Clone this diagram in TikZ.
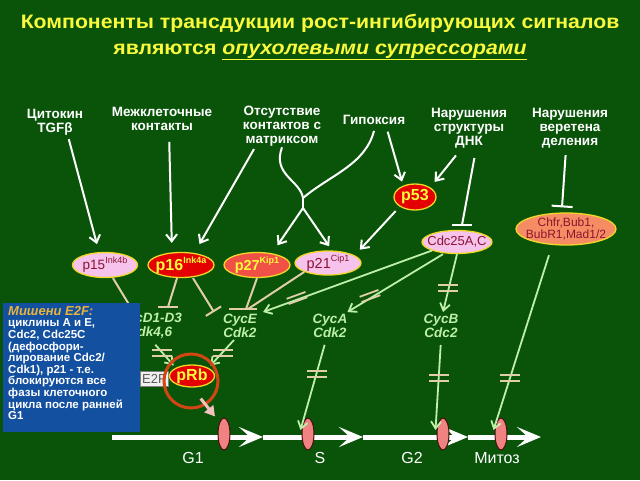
\documentclass[tikz,border=0pt]{standalone}
\usepackage{fontspec}
\setmainfont{Liberation Sans}
\newfontfamily\ttlfont[FakeStretch=1.09]{Liberation Sans}
\usetikzlibrary{shapes.geometric,arrows.meta}

\definecolor{bggreen}{RGB}{10,84,10}
\definecolor{ttlyellow}{RGB}{250,250,60}
\definecolor{lgreen}{RGB}{190,240,170}
\definecolor{tanbar}{RGB}{225,205,170}
\definecolor{ylborder}{RGB}{240,215,40}
\definecolor{redn}{RGB}{228,0,0}
\definecolor{tomn}{RGB}{240,80,70}
\definecolor{pinkn}{RGB}{245,195,235}
\definecolor{salmn}{RGB}{245,140,100}
\definecolor{dkred}{RGB}{140,20,50}
\definecolor{boxblue}{RGB}{20,80,160}
\definecolor{goldt}{RGB}{232,180,60}
\definecolor{ringcol}{RGB}{210,70,20}
\definecolor{ckpink}{RGB}{240,130,130}
\definecolor{ckdark}{RGB}{70,15,15}
\definecolor{rbpink}{RGB}{245,195,190}

\newcommand{\upidx}[1]{\raisebox{0.45em}{\fontsize{9}{9}\selectfont #1}}
% double break mark across a connector
\newcommand{\brk}[3][0]{\draw[brkline,rotate around={#1:(#2,#3)}] (#2-10,#3-2.8) -- ++(20,0) (#2-10,#3+2.8) -- ++(20,0);}

\tikzset{
  lbl/.style={text=white,font=\fontsize{13.5}{14}\selectfont\bfseries,align=center,inner sep=1pt},
  cplx/.style={text=lgreen,font=\fontsize{13.5}{14}\selectfont\bfseries\itshape,align=center,inner sep=2pt},
  prot/.style={ellipse,draw=ylborder,line width=1.3pt,inner xsep=-9pt,inner ysep=-2pt},
  warr/.style={white,line width=2pt,-{Straight Barb[length=7pt,width=11pt]}},
  wline/.style={white,line width=2pt},
  garr/.style={lgreen,line width=1.8pt,-{Straight Barb[length=7pt,width=10pt]}},
  inh/.style={tanbar,line width=2pt},
  brkline/.style={tanbar,line width=1.8pt},
  ckpt/.style={ellipse,fill=ckpink,draw=ckdark,line width=1pt,minimum width=12pt,minimum height=32pt,inner sep=0pt},
  cyc/.style={white,line width=5pt,-{Stealth[length=24pt,width=20pt,inset=11pt]}},
  phase/.style={text=white,font=\fontsize{16}{16}\selectfont},
}

\begin{document}
\begin{tikzpicture}[x=1pt,y=-1pt]
\fill[bggreen] (0,0) rectangle (640,480);
\useasboundingbox (0,0) rectangle (640,480);

\node[text=ttlyellow,font=\ttlfont\fontsize{19.5}{26}\selectfont\bfseries,align=center] (title) at (320,37)
  {Компоненты трансдукции рост-ингибирующих сигналов\\являются \underline{\textit{опухолевыми супрессорами}}};

% signals
\node[lbl] (tgf) at (55,122) {Цитокин\\TGFβ};
\node[lbl] (cont) at (162,119) {Межклеточные\\контакты};
\node[lbl] (matr) at (282,126) {Отсутствие\\контактов с\\матриксом};
\node[lbl] (hypo) at (374,120) {Гипоксия};
\node[lbl] (dna) at (469,128) {Нарушения\\структуры\\ДНК};
\node[lbl] (spin) at (570,128) {Нарушения\\веретена\\деления};

% inhibitors
\node[prot,fill=pinkn,text=dkred,minimum width=65pt,minimum height=25pt,font=\fontsize{13.5}{13}\selectfont] (p15) at (105,265) {p15\upidx{Ink4b}};
\node[prot,fill=redn,text=ttlyellow,minimum width=66pt,minimum height=25pt,font=\fontsize{16}{16}\selectfont\bfseries] (p16) at (181,265) {p16\upidx{\bfseries Ink4a}};
\node[prot,fill=tomn,text=ttlyellow,minimum width=66pt,minimum height=25pt,font=\fontsize{14.5}{14}\selectfont\bfseries] (p27) at (257,265) {p27\upidx{\bfseries Kip1}};
\node[prot,fill=pinkn,text=dkred,minimum width=66pt,minimum height=24pt,font=\fontsize{14.5}{14}\selectfont] (p21) at (328,263) {p21\upidx{Cip1}};
\node[prot,fill=redn,text=ttlyellow,minimum width=42pt,minimum height=26pt,font=\fontsize{16}{16}\selectfont\bfseries] (p53) at (415,197) {p53};
\node[prot,fill=pinkn,text=dkred,minimum width=70pt,minimum height=23pt,font=\fontsize{13}{13}\selectfont] (cdc25) at (457,242) {Cdc25A,C};
\node[prot,fill=salmn,text=dkred,minimum width=100pt,minimum height=32pt,align=center,font=\fontsize{12}{12}\selectfont] (chfr) at (566,229) {Chfr,Bub1,\\BubR1,Mad1/2};

% complexes
\node[cplx] (cycd) at (150,326) {CycD1-D3\\Cdk4,6};
\node[cplx] (cyce) at (240,326) {CycE\\Cdk2};
\node[cplx] (cyca) at (330,326) {CycA\\Cdk2};
\node[cplx] (cycb) at (441,326) {CycB\\Cdc2};

% cell cycle
\draw[cyc] (112,437) -- (263,437);
\draw[cyc] (263,437) -- (363,437);
\draw[cyc] (363,437) -- (468,437);
\draw[cyc] (468,437) -- (541,437);
\node[ckpt] (cp1) at (224,434) {};
\node[ckpt] (cp2) at (308,434) {};
\node[ckpt] (cp3) at (443,434) {};
\node[ckpt] (cp4) at (501,434) {};
\node[phase] (g1) at (193,458) {G1};
\node[phase] (s) at (320,458) {S};
\node[phase] (g2) at (412,458) {G2};
\node[phase] (mit) at (497,458) {Митоз};

% signal arrows
\draw[warr,shorten <=3pt,shorten >=8pt] ([xshift=13pt]tgf.south) -- ([xshift=-6pt]p15.north);
\draw[warr,shorten <=10pt,shorten >=9pt] ([xshift=7pt]cont.south) -- ([xshift=-9pt]p16.north);
\draw[warr,shorten <=2pt,shorten >=9pt] ([xshift=-27pt]matr.south) -- ([xshift=14pt]p16.north);
\coordinate (jn) at (303,198);
\coordinate (jn2) at (303,208);
\draw[wline] (matr.south) .. controls (272,175) and (300,180) .. (jn);
\draw[wline] ([yshift=-5pt]hypo.south) .. controls (365,165) and (330,175) .. (jn);
\draw[wline] (jn) -- (jn2);
\draw[warr,shorten >=8pt] (jn2) -- ([xshift=16pt]p27.north);
\draw[warr,shorten >=5pt] (jn2) -- ([xshift=4pt]p21.north);
\draw[warr,shorten <=6pt,shorten >=6pt] ([xshift=12pt]hypo.south) -- ([xshift=4pt]p53.north west);
\draw[warr,shorten <=8pt,shorten >=7pt] ([xshift=-8pt]dna.south) -- (p53.north east);
\coordinate (dbar) at (462,225);
\draw[wline,shorten <=9pt] ([xshift=7pt]dna.south) -- (dbar);
\draw[wline] ([xshift=-10pt]dbar) -- ([xshift=10pt]dbar);
\draw[wline,shorten <=6pt,-{Bar[width=21pt,line width=2pt]}] ([xshift=-4pt]spin.south) -- ([xshift=-4pt,yshift=5pt]chfr.north);
\draw[warr,shorten <=6pt,shorten >=6pt] (p53.south west) -- ([xshift=4pt]p21.north east);

% inhibition
\draw[inh] ([xshift=8pt]p15.south) -- ([xshift=-17pt]cycd.north);
\coordinate (kd) at (168,307);
\draw[inh] ([xshift=-4pt]p16.south) -- (kd);
\draw[inh] ([xshift=-10pt]kd) -- ([xshift=10pt]kd);
\draw[inh,-{Bar[width=18pt,line width=2pt]}] ([xshift=12pt]p16.south) -- ([xshift=-26pt]cyce.north);
\coordinate (ke) at (243,309);
\draw[inh] ([xshift=-14pt]ke) -- ([xshift=14pt]ke);
\draw[inh] (p27.south) -- ([xshift=3pt]ke);
\draw[inh] (p21.south west) -- ([xshift=5pt]ke);

% Cdc25 activation
\draw[garr] (cdc25.south west) -- ([xshift=4pt]cyce.north east);
\draw[garr] ([xshift=-14pt]cdc25.south) -- ([xshift=-2pt]cyca.north east);
\draw[garr] (cdc25.south) -- ([xshift=2pt]cycb.north);
\brk[20]{297}{298}
\brk[20]{370}{296}
\brk{448}{288}

% E2F / pRb
\node[fill=gray!12,draw=gray,anchor=west,minimum height=15pt,inner sep=2pt,text=gray!70!black,font=\fontsize{13}{13}\selectfont] (e2f) at (140,379) {E2F\hspace{12pt}};
\node[prot,fill=redn,text=ttlyellow,minimum width=45pt,minimum height=22pt,font=\fontsize{16}{16}\selectfont\bfseries] (prb) at (192,376) {pRb};
\draw[garr,shorten <=5pt,shorten >=3pt] ([xshift=2pt]cycd.south) -- (prb.north west);
\draw[garr,shorten >=3pt] ([xshift=-6pt]cyce.south) -- (prb.north east);
\brk{162}{353}
\brk{223}{353}
\draw[ringcol,line width=3pt] ([xshift=-1pt,yshift=-5pt]prb.center) circle[radius=27pt];
\draw[rbpink,line width=3pt,shorten <=14pt,-{Triangle[length=10pt,width=11pt]}] (prb.south) -- ([xshift=-9pt,yshift=1pt]cp1.north);

% to checkpoints
\draw[garr,shorten <=5pt] ([xshift=-4pt]cyca.south) -- ([xshift=-1pt,yshift=4pt]cp2.west);
\draw[garr,shorten <=5pt] (cycb.south) -- ([xshift=-1pt,yshift=4pt]cp3.west);
\draw[garr,shorten <=10pt] ([xshift=-14pt]chfr.south) -- ([xshift=-1pt,yshift=4pt]cp4.west);
\brk{317}{374}
\brk{439}{378}
\brk{510}{378}

% E2F targets
\fill[boxblue] (3,303) rectangle (140,432);
\node[anchor=north west,text=white,align=left,inner sep=0pt,font=\fontsize{11.5}{11.6}\selectfont\bfseries] (tgt) at (8,306)
  {{\color{goldt}\fontsize{13}{13}\selectfont\itshape Мишени E2F:}\\
   циклины А и Е,\\Cdc2, Cdc25C\\(дефосфори-\\лирование Cdc2/\\Cdk1), p21 - т.е.\\блокируются все\\фазы клеточного\\цикла после ранней\\G1};
\end{tikzpicture}
\end{document}
